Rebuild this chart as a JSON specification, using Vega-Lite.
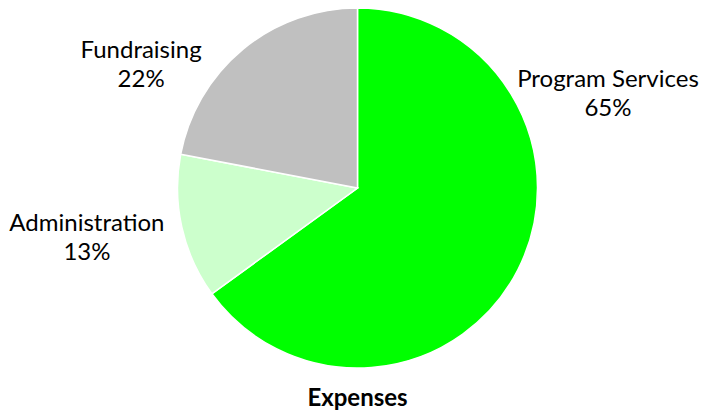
{
  "$schema": "https://vega.github.io/schema/vega-lite/v6.json",
  "width": 715,
  "height": 376,
  "padding": {"left": 0, "top": 0, "right": 0, "bottom": 35},
  "autosize": {"type": "none"},
  "background": "white",
  "config": {"view": {"stroke": null}, "font": "Lato"},
  "title": {"text": "Expenses", "orient": "bottom", "offset": 11, "fontSize": 24, "font": "Lato", "fontWeight": "bold", "color": "#000000", "anchor": "middle"},
  "data": {"values": [
    {"category": "Program Services", "value": 65},
    {"category": "Administration", "value": 13},
    {"category": "Fundraising", "value": 22}
  ]},
  "transform": [
    {"calculate": "indexof(['Program Services','Administration','Fundraising'], datum.category)", "as": "o"},
    {"calculate": "datum.category + '\\n' + datum.value + '%'", "as": "label"}
  ],
  "encoding": {
    "theta": {"field": "value", "type": "quantitative", "stack": true},
    "order": {"field": "o", "type": "quantitative"},
    "color": {"field": "category", "type": "nominal", "legend": null,
      "scale": {"domain": ["Program Services", "Administration", "Fundraising"], "range": ["#00FF00", "#CCFFCC", "#C0C0C0"]}}
  },
  "layer": [
    {"mark": {"type": "arc", "outerRadius": 180, "stroke": "white", "strokeWidth": 1.5}},
    {"mark": {"type": "text", "radius": 225, "fontSize": 24, "lineBreak": "\n", "lineHeight": 29, "align": "center", "baseline": "middle", "dx": 50, "dy": -210},
     "encoding": {"text": {"condition": {"test": "datum.category == 'Program Services'", "field": "label"}, "value": ""}, "color": {"value": "#000000"}}},
    {"mark": {"type": "text", "radius": 225, "fontSize": 24, "lineBreak": "\n", "lineHeight": 29, "align": "center", "baseline": "middle", "dx": -51, "dy": -13},
     "encoding": {"text": {"condition": {"test": "datum.category == 'Administration'", "field": "label"}, "value": ""}, "color": {"value": "#000000"}}},
    {"mark": {"type": "text", "radius": 225, "fontSize": 24, "lineBreak": "\n", "lineHeight": 29, "align": "center", "baseline": "middle", "dx": -73, "dy": 36},
     "encoding": {"text": {"condition": {"test": "datum.category == 'Fundraising'", "field": "label"}, "value": ""}, "color": {"value": "#000000"}}}
  ]
}
